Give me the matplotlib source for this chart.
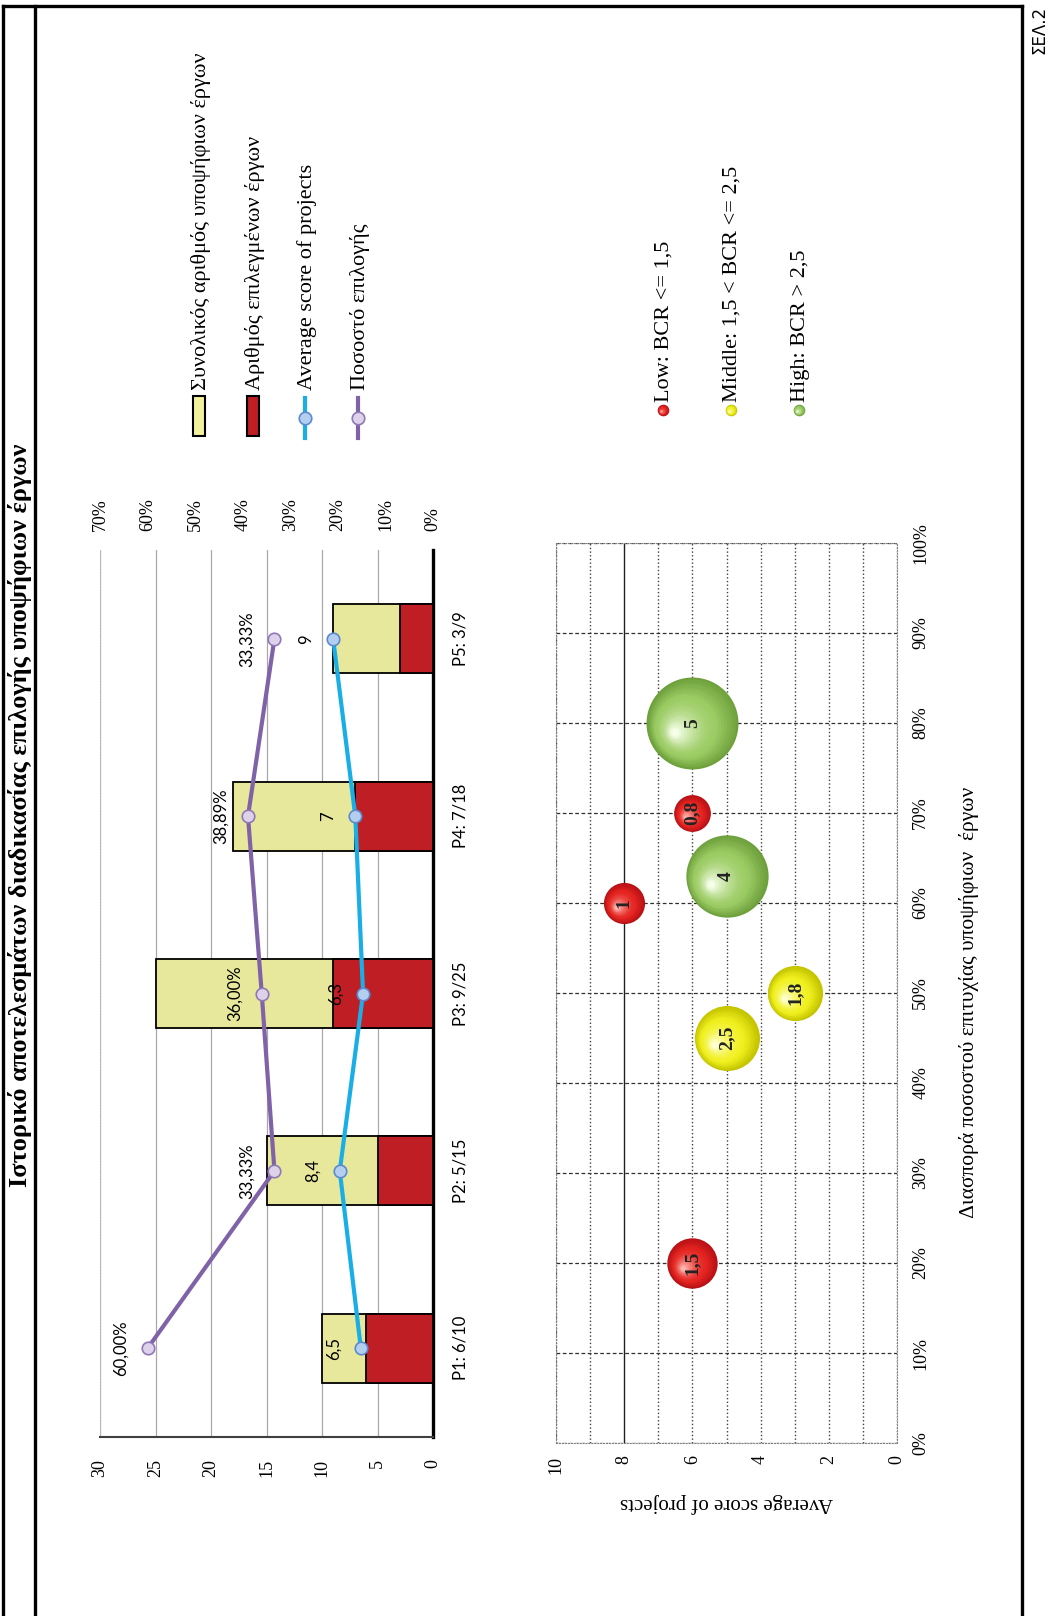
import matplotlib
matplotlib.use('Agg')
import matplotlib.pyplot as plt
import matplotlib.transforms as mtransforms
from matplotlib.patches import Rectangle
from matplotlib.lines import Line2D
from matplotlib.colors import to_rgb
import numpy as np

# ---- bar / line chart data ----
projects = ['P1: 6/10', 'P2: 5/15', 'P3: 9/25', 'P4: 7/18', 'P5: 3/9']
total_projects = [10, 15, 25, 18, 9]
selected_projects = [6, 5, 9, 7, 3]
avg_score = [6.5, 8.4, 6.3, 7.0, 9.0]
avg_labels = ['6,5', '8,4', '6,3', '7', '9']
selection_pct = [0.60, 0.3333, 0.36, 0.3889, 0.3333]
pct_labels = ['60,00%', '33,33%', '36,00%', '38,89%', '33,33%']
count_ticks = [0, 5, 10, 15, 20, 25, 30]
pct_ticks = [0, 0.1, 0.2, 0.3, 0.4, 0.5, 0.6, 0.7]
pct_tick_labels = ['0%', '10%', '20%', '30%', '40%', '50%', '60%', '70%']
legend_bar = ['Συνολικός αριθμός υποψήφιων έργων', 'Αριθμός επιλεγμένων έργων',
              'Average score of projects', 'Ποσοστό επιλογής']

# ---- bubble chart data ----
bubble_spread = [0.20, 0.45, 0.50, 0.60, 0.63, 0.70, 0.80]
bubble_score = [6, 5, 3, 8, 5, 6, 6]
bubble_bcr = [1.5, 2.5, 1.8, 1.0, 4.0, 0.8, 5.0]
bubble_labels = ['1,5', '2,5', '1,8', '1', '4', '0,8', '5']
score_ticks = [0, 2, 4, 6, 8, 10]
spread_ticks = [0, 0.1, 0.2, 0.3, 0.4, 0.5, 0.6, 0.7, 0.8, 0.9, 1.0]
spread_tick_labels = ['0%', '10%', '20%', '30%', '40%', '50%', '60%', '70%', '80%', '90%', '100%']
legend_bubble = ['Low: BCR <= 1,5', 'Middle: 1,5 < BCR <= 2,5', 'High: BCR > 2,5']

title = 'Ιστορικό αποτελεσμάτων διαδικασίας επιλογής υποψήφιων έργων'

SERIF = 'Liberation Serif'
SANS = 'Lato'
YELLOW = '#e8e89c'
RED = '#be1e24'
BLUE = '#1aaee6'
PURPLE = '#8062a8'
# (dark edge, base, highlight) for the 3d spheres
SPHERE = {'low': ('#b81016', '#e52521', '#ffb8b0'),
          'middle': ('#c4c400', '#f0f020', '#ffffd4'),
          'high': ('#6ea03c', '#9ccc64', '#f6ffea')}


def bcr_class(v):
    if v <= 1.5:
        return 'low'
    if v <= 2.5:
        return 'middle'
    return 'high'


def sphere_colors(cls, n):
    dark, base, light = [np.array(to_rgb(c)) for c in SPHERE[cls]]
    out = []
    for i in range(n):
        t = i / (n - 1)
        if t < 0.35:
            c = dark + (base - dark) * (t / 0.35)
        else:
            c = base + (light - base) * ((t - 0.35) / 0.65) ** 1.6
        out.append(np.clip(c, 0, 1))
    return out


fig = plt.figure(figsize=(10.52, 16.16), dpi=100)

# page frame / free texts in pixel coordinates
bg = fig.add_axes([0, 0, 1, 1])
bg.set_xlim(0, 1052)
bg.set_ylim(1616, 0)
bg.axis('off')
for x0, y0, x1, y1 in [(3, 6, 1022, 6), (3, 6, 3, 1616), (35, 6, 35, 1616), (1022, 6, 1022, 1616)]:
    bg.add_line(Line2D([x0, x1], [y0, y1], color='black', lw=2.4))
bg.text(20, 815, title, rotation=90, ha='center', va='center', fontsize=19,
        fontweight='bold', family=SERIF)
bg.text(1039, 30, 'ΣΕΛ.2', rotation=90, ha='center', va='center', fontsize=12,
        family='DejaVu Sans')

# ---------------- bar chart (page rotated) ----------------
ax = fig.add_axes([100 / 1052, 1 - 1437 / 1616, 333 / 1052, 887 / 1616])
ypos = np.arange(len(projects))
ax.barh(ypos, total_projects, height=0.39, color=YELLOW, edgecolor='black', lw=1.3, zorder=2)
ax.barh(ypos, selected_projects, height=0.39, color=RED, edgecolor='black', lw=1.3, zorder=3)
ax.plot(avg_score, ypos, color=BLUE, lw=3, marker='o', ms=9, mfc='#b4cef0',
        mec='#5a8ad0', mew=1.2, zorder=4)
for v, yv, lbl in zip(avg_score, ypos, avg_labels):
    ax.annotate(lbl, (v, yv), xytext=(-19.5, 0), textcoords='offset points', rotation=90,
                ha='center', va='center', fontsize=12, family=SANS, zorder=6)
ax.set_xlim(30, 0)
ax.set_ylim(-0.5, 4.5)
ax.set_xticks(count_ticks)
ax.set_xticklabels([str(t) for t in count_ticks], rotation=90, fontsize=13, family=SERIF)
ax.set_yticks(ypos)
ax.set_yticklabels(projects, rotation=90, va='center', fontsize=12, family=SANS)
ax.yaxis.tick_right()
ax.tick_params(axis='x', length=0, pad=16)
ax.tick_params(axis='y', length=0, pad=14)
ax.grid(axis='x', color='#a8a8a8', lw=0.9)
ax.set_axisbelow(True)
ax.spines['top'].set_visible(False)
ax.spines['left'].set_color('#c0c0c0')
ax.spines['left'].set_linestyle(':')
ax.spines['right'].set_linewidth(2.4)
ax.spines['bottom'].set_color('#404040')
ax.spines['bottom'].set_linewidth(1.5)

ax2 = ax.twiny()
ax2.plot(selection_pct, ypos, color=PURPLE, lw=3, marker='o', ms=9, mfc='#ddd2ea',
         mec='#9078b8', mew=1.2, zorder=5)
for v, yv, lbl in zip(selection_pct, ypos, pct_labels):
    ax2.annotate(lbl, (v, yv), xytext=(-19.5, 0), textcoords='offset points', rotation=90,
                 ha='center', va='center', fontsize=12, family=SANS)
ax2.set_xlim(0.7, 0)
ax2.set_xticks(pct_ticks)
ax2.set_xticklabels(pct_tick_labels, rotation=90, fontsize=13, family=SERIF)
ax2.tick_params(axis='x', length=0, pad=14)
for s in ax2.spines.values():
    s.set_visible(False)

# legend of bar chart
leg_x = [199, 253, 305, 358]
bg.add_patch(Rectangle((193, 396), 12, 40, facecolor='#f2f29c', edgecolor='black', lw=1.5))
bg.add_patch(Rectangle((247, 396), 12, 40, facecolor=RED, edgecolor='black', lw=1.5))
bg.add_line(Line2D([305, 305], [398, 438], color=BLUE, lw=3))
bg.plot([305], [418], marker='o', ms=9, mfc='#b4cef0', mec='#5a8ad0', mew=1.2)
bg.add_line(Line2D([358, 358], [398, 438], color=PURPLE, lw=3))
bg.plot([358], [418], marker='o', ms=9, mfc='#ddd2ea', mec='#9078b8', mew=1.2)
for x, lbl in zip(leg_x, legend_bar):
    bg.text(x + 2, 390, lbl, rotation=90, ha='center', va='bottom', fontsize=16, family=SERIF)

# ---------------- bubble chart ----------------
axb = fig.add_axes([556 / 1052, 1 - 1443 / 1616, 341 / 1052, 900 / 1616])
axb.set_xlim(10, 0)
axb.set_ylim(0, 1)
axb.set_xticks(score_ticks)
axb.set_xticks(range(0, 11), minor=True)
axb.set_xticklabels([str(t) for t in score_ticks], rotation=90, fontsize=13, family=SERIF)
axb.set_yticks(spread_ticks)
axb.set_yticklabels(spread_tick_labels, rotation=90, va='center', fontsize=13, family=SERIF)
axb.yaxis.tick_right()
axb.tick_params(which='both', length=0)
axb.tick_params(axis='x', pad=9)
axb.tick_params(axis='y', pad=11)
axb.grid(axis='x', which='both', ls=':', color='#404040', lw=1.0)
axb.grid(axis='y', ls=(0, (3, 2)), color='#303030', lw=0.9)
for t in axb.xaxis.get_major_ticks():
    if t.get_loc() == 8:
        t.gridline.set_linestyle('-')
        t.gridline.set_color('#202020')
for t in axb.xaxis.get_minor_ticks():
    if t.get_loc() in (3, 7):
        t.gridline.set_color('#c0c0c0')
for s in axb.spines.values():
    s.set_linestyle(':')
    s.set_color('#808080')
axb.set_axisbelow(True)

n_layers = 22
for sc, sp, v, lbl in zip(bubble_score, bubble_spread, bubble_bcr, bubble_labels):
    s = 877 * v
    r_pt = np.sqrt(s) / 2
    cols = sphere_colors(bcr_class(v), n_layers)
    for i, c in enumerate(cols):
        f = 1 - 0.92 * i / (n_layers - 1)
        tr = mtransforms.offset_copy(axb.transData, fig=fig, x=-(1 - f) * 0.42 * r_pt,
                                     y=-(1 - f) * 0.22 * r_pt, units='points')
        axb.scatter([sc], [sp], s=s * f ** 2, color=[c], lw=0, transform=tr,
                    zorder=3 + i * 0.01, clip_on=False)
    axb.text(sc, sp, lbl, rotation=90, ha='center', va='center', fontsize=14,
             fontweight='bold', family=SERIF, color='#222222', zorder=5)

axb.set_xlabel('Average score of projects', rotation=180, fontsize=15, family=SERIF)
axb.xaxis.set_label_coords(0.5, -0.067)
axb.xaxis.label.set_va('center')
axb.set_ylabel('Διασπορά ποσοστού επιτυχίας υποψήφιων  έργων', rotation=90, fontsize=15.5,
               family=SERIF)
axb.yaxis.set_label_position('right')
axb.yaxis.set_label_coords(1.211, 0.49)
axb.yaxis.label.set_va('center')

# legend of bubble chart
for x, lbl, v in zip([663, 731, 799], legend_bubble, [1.0, 2.0, 3.0]):
    cols = sphere_colors(bcr_class(v), 10)
    for i, c in enumerate(cols):
        f = 1 - 0.9 * i / 9
        bg.scatter([x - (1 - f) * 2.2], [410 + (1 - f) * 1.2], s=70 * f ** 2, color=[c], lw=0)
    bg.text(x + 1, 402, lbl, rotation=90, ha='center', va='bottom', fontsize=16, family=SERIF)

fig.savefig('out.png', dpi=100)
